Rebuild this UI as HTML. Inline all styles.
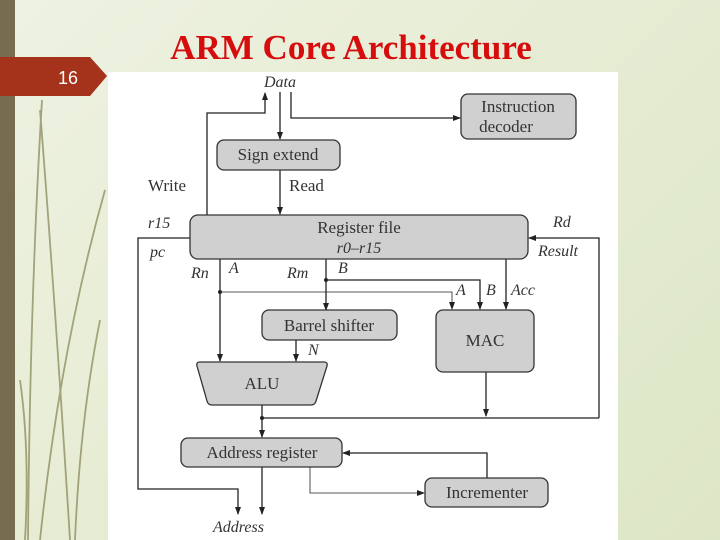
<!DOCTYPE html>
<html><head><meta charset="utf-8"><style>
html,body{margin:0;padding:0;width:720px;height:540px;overflow:hidden}
body{background:linear-gradient(135deg,#eef2e2 0%,#e6ecd3 50%,#dde6c6 100%);position:relative;font-family:"Liberation Serif",serif}
</style></head><body>
<svg width="720" height="540" viewBox="0 0 720 540" style="position:absolute;left:0;top:0" font-family="Liberation Serif, serif">
<defs><marker id="ar" markerWidth="8" markerHeight="8" refX="7" refY="4" orient="auto" markerUnits="userSpaceOnUse"><path d="M0,1 L8,4 L0,7 z" fill="#222"/></marker></defs>
<rect x="0" y="0" width="15" height="540" fill="#766c50"/>
<g stroke="#8a8a5a" stroke-width="1.8" fill="none" opacity="0.75">
<path d="M42 100 Q30 300 28 540"/><path d="M40 110 Q55 300 70 540"/><path d="M105 190 Q60 350 40 540"/><path d="M20 380 Q30 450 25 540"/><path d="M100 320 Q80 420 75 540"/>
</g>
<path d="M0 57 L90 57 L107 76 L90 96 L0 96 z" fill="#a5321a"/>
<text x="68" y="84" font-family="Liberation Sans, sans-serif" font-size="18" fill="#fff" text-anchor="middle">16</text>
<text x="351" y="59" font-size="35" font-weight="bold" fill="#d60d0d" text-anchor="middle">ARM Core Architecture</text>
<rect x="108" y="72" width="510" height="468" fill="#fff"/>
<g stroke="#222" stroke-width="1.3" fill="none">
<polyline points="207,215 207,113 265,113 265,93" marker-end="url(#ar)"/>
<line x1="280" y1="92" x2="280" y2="139" marker-end="url(#ar)"/>
<polyline points="291,92 291,118 460,118" marker-end="url(#ar)"/>
<line x1="280" y1="170" x2="280" y2="214" marker-end="url(#ar)"/>
<polyline points="190,238 138,238 138,489 238,489 238,514" marker-end="url(#ar)"/>
<polyline points="599,418 599,238 529,238" marker-end="url(#ar)"/>
<line x1="220" y1="259" x2="220" y2="361" marker-end="url(#ar)"/>
<polyline points="220,292 452,292 452,309" marker-end="url(#ar)" stroke-width="0.8"/>
<line x1="326" y1="259" x2="326" y2="310" marker-end="url(#ar)"/>
<polyline points="326,280 480,280 480,309" marker-end="url(#ar)"/>
<line x1="506" y1="259" x2="506" y2="309" marker-end="url(#ar)"/>
<line x1="296" y1="340" x2="296" y2="361" marker-end="url(#ar)"/>
<line x1="262" y1="405" x2="262" y2="437" marker-end="url(#ar)"/>
<line x1="262" y1="418" x2="599" y2="418"/>
<line x1="486" y1="372" x2="486" y2="416" marker-end="url(#ar)"/>
<polyline points="487,478 487,453 343,453" marker-end="url(#ar)"/>
<polyline points="310,467 310,493 424,493" marker-end="url(#ar)" stroke-width="0.8"/>
<line x1="262" y1="467" x2="262" y2="514" marker-end="url(#ar)"/>
</g>
<g fill="#222"><circle cx="220" cy="292" r="2"/><circle cx="326" cy="280" r="2"/><circle cx="262" cy="418" r="2"/></g>
<g fill="#d0d0d0" stroke="#333" stroke-width="1.3">
<rect x="461" y="94" width="115" height="45" rx="7"/>
<rect x="217" y="140" width="123" height="30" rx="7"/>
<rect x="190" y="215" width="338" height="44" rx="8"/>
<rect x="262" y="310" width="135" height="30" rx="7"/>
<rect x="436" y="310" width="98" height="62" rx="7"/>
<path d="M200 362 L324 362 Q328 362 327 366 L316 401 Q315 405 311 405 L212 405 Q208 405 207 401 L197 366 Q196 362 200 362 z"/>
<rect x="181" y="438" width="161" height="29" rx="7"/>
<rect x="425" y="478" width="123" height="29" rx="7"/>
</g>
<g fill="#333" font-size="17">
<text x="518" y="112" text-anchor="middle">Instruction</text>
<text x="506" y="132" text-anchor="middle">decoder</text>
<text x="278" y="160" text-anchor="middle">Sign extend</text>
<text x="359" y="233" text-anchor="middle">Register file</text>
<text x="329" y="331" text-anchor="middle">Barrel shifter</text>
<text x="485" y="346" text-anchor="middle">MAC</text>
<text x="262" y="389" text-anchor="middle">ALU</text>
<text x="262" y="458" text-anchor="middle">Address register</text>
<text x="487" y="498" text-anchor="middle">Incrementer</text>
<text x="148" y="191">Write</text>
<text x="289" y="191">Read</text>
</g>
<g fill="#333" font-size="16" font-style="italic">
<text x="280" y="87" text-anchor="middle">Data</text>
<text x="359" y="253" text-anchor="middle">r0–r15</text>
<text x="148" y="228">r15</text>
<text x="150" y="257">pc</text>
<text x="553" y="227">Rd</text>
<text x="538" y="256">Result</text>
<text x="191" y="278">Rn</text>
<text x="229" y="273">A</text>
<text x="287" y="278">Rm</text>
<text x="338" y="273">B</text>
<text x="456" y="295">A</text>
<text x="486" y="295">B</text>
<text x="511" y="295">Acc</text>
<text x="308" y="355">N</text>
<text x="213" y="532">Address</text>
</g>
</svg>
</body></html>
